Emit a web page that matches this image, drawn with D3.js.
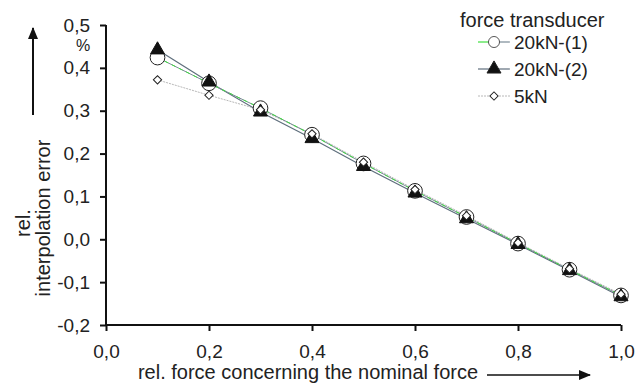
<!DOCTYPE html>
<html>
<head>
<meta charset="utf-8">
<title>interpolation error</title>
<style>
  html, body { margin: 0; padding: 0; background: #fff; }
  text { font-family: "Liberation Sans", Arial, sans-serif; fill: #222; }
</style>
</head>
<body>
<script src="https://d3js.org/d3.v7.min.js"></script>
<script>
var forces = [0.1, 0.2, 0.3, 0.4, 0.5, 0.6, 0.7, 0.8, 0.9, 1.0];
var err20kN1 = [0.424, 0.364, 0.306, 0.244, 0.177, 0.113, 0.052, -0.010, -0.071, -0.131];
var err20kN2 = [0.442, 0.367, 0.297, 0.235, 0.170, 0.108, 0.048, -0.012, -0.073, -0.134];
var err5kN = [0.372, 0.336, 0.302, 0.246, 0.180, 0.116, 0.055, -0.008, -0.069, -0.128];
var xTicks = [0, 0.2, 0.4, 0.6, 0.8, 1.0];
var yTicks = [-0.2, -0.1, 0, 0.1, 0.2, 0.3, 0.4, 0.5];
var seriesNames = ["20kN-(1)", "20kN-(2)", "5kN"];

var fmt = function(d) { return d3.format(".1f")(d).replace(".", ",").replace("−", "-"); };

var svg = d3.select("body").append("svg")
    .attr("width", 638)
    .attr("height", 383);

var x = d3.scaleLinear().domain([0, 1]).range([106, 621]);
var y = d3.scaleLinear().domain([-0.2, 0.5]).range([325, 25]);

// axes
var yAxis = svg.append("g")
    .attr("transform", "translate(106,0)")
    .call(d3.axisLeft(y).tickValues(yTicks).tickFormat(fmt).tickSize(6).tickPadding(10));
var xAxis = svg.append("g")
    .attr("transform", "translate(0,325)")
    .call(d3.axisBottom(x).tickValues(xTicks).tickFormat(fmt).tickSize(6).tickPadding(14));

[xAxis, yAxis].forEach(function(a) {
    a.select(".domain").attr("stroke", "#111").attr("stroke-width", 2);
    a.selectAll(".tick line").attr("stroke", "#111").attr("stroke-width", 2);
    a.selectAll(".tick text")
        .style("font-family", "'Liberation Sans', Arial, sans-serif")
        .style("font-size", "19px")
        .attr("fill", "#222");
});
yAxis.select(".domain").attr("d", "M0," + y(0.5) + "V" + y(-0.2));
xAxis.select(".domain").attr("d", "M" + x(0) + ",0H" + x(1));

svg.append("text")
    .attr("x", 83).attr("y", 51)
    .attr("text-anchor", "middle")
    .style("font-size", "16px")
    .text("%");

// arrows
var defs = svg.append("defs");
defs.append("marker")
    .attr("id", "arr")
    .attr("viewBox", "0 0 12 10")
    .attr("refX", 11).attr("refY", 5)
    .attr("markerWidth", 12).attr("markerHeight", 10)
    .attr("markerUnits", "userSpaceOnUse")
    .attr("orient", "auto")
    .append("path")
    .attr("d", "M0,0L12,5L0,10Z")
    .attr("fill", "#111");

svg.append("line")
    .attr("x1", 33).attr("y1", 115).attr("x2", 33).attr("y2", 28)
    .attr("stroke", "#111").attr("stroke-width", 2)
    .attr("marker-end", "url(#arr)");
svg.append("line")
    .attr("x1", 487).attr("y1", 375).attr("x2", 590).attr("y2", 375)
    .attr("stroke", "#111").attr("stroke-width", 1.5)
    .attr("marker-end", "url(#arr)");

// axis titles
svg.append("text")
    .attr("transform", "translate(30,223) rotate(-90)")
    .attr("text-anchor", "middle")
    .style("font-size", "20px")
    .text("rel.");
svg.append("text")
    .attr("transform", "translate(50,218) rotate(-90)")
    .attr("text-anchor", "middle")
    .style("font-size", "20px")
    .text("interpolation error");
svg.append("text")
    .attr("x", 308).attr("y", 379)
    .attr("text-anchor", "middle")
    .style("font-size", "20px")
    .text("rel. force concerning the nominal force");

// lines
var line = function(vals) {
    return d3.line()
        .x(function(d, i) { return x(forces[i]); })
        .y(function(d) { return y(d); })(vals);
};

var styles = [
    { stroke: "#7a8a96", width: 1, dash: null },
    { stroke: "#5e6e7c", width: 1.2, dash: null },
    { stroke: "#b8b8b8", width: 1, dash: "2,1" }
];

svg.append("path").attr("d", line(err5kN))
    .attr("fill", "none").attr("stroke", styles[2].stroke)
    .attr("stroke-width", 1).attr("stroke-dasharray", "2,1");
svg.append("path").attr("d", line(err20kN2))
    .attr("fill", "none").attr("stroke", styles[1].stroke)
    .attr("stroke-width", 1.2);
svg.append("path").attr("d", line(err20kN1))
    .attr("fill", "none").attr("stroke", styles[0].stroke)
    .attr("stroke-width", 1);
svg.append("path").attr("d", line(err20kN1))
    .attr("fill", "none").attr("stroke", "#3ee03e")
    .attr("stroke-width", 1).attr("stroke-dasharray", "4,4");

// markers
var circ = d3.symbol().type(d3.symbolCircle).size(170);
var tri = d3.symbol().type(d3.symbolTriangle).size(85);
var dia = d3.symbol().type(d3.symbolSquare).size(34);

function drawMarks(vals, sym, fill, stroke, rot) {
    svg.append("g").selectAll("path")
        .data(vals)
        .join("path")
        .attr("d", sym)
        .attr("transform", function(d, i) { return "translate(" + x(forces[i]) + "," + y(d) + ") rotate(" + rot + ")"; })
        .attr("fill", fill)
        .attr("stroke", stroke)
        .attr("stroke-width", 1);
}
drawMarks(err20kN1, circ, "#fff", "#222", 0);
drawMarks(err20kN2, tri, "#111", "#111", 0);
drawMarks(err5kN, dia, "#fff", "#222", 45);

// legend
var legend = svg.append("g");
legend.append("text")
    .attr("x", 460).attr("y", 27)
    .style("font-size", "20px")
    .text("force transducer");

var legY = [42, 69, 96];
var legSyms = [circ, tri, dia];
var legFill = ["#fff", "#111", "#fff"];
seriesNames.forEach(function(name, i) {
    var g = legend.append("g").attr("transform", "translate(0," + legY[i] + ")");
    if (i === 0) {
        g.append("line").attr("x1", 478).attr("x2", 494).attr("y1", 0).attr("y2", 0)
            .attr("stroke", "#3ee03e").attr("stroke-width", 1.2);
        g.append("line").attr("x1", 494).attr("x2", 510).attr("y1", 0).attr("y2", 0)
            .attr("stroke", "#7a8a96").attr("stroke-width", 1.2);
    } else {
        g.append("line").attr("x1", 478).attr("x2", 510).attr("y1", 0).attr("y2", 0)
            .attr("stroke", styles[i].stroke).attr("stroke-width", styles[i].width)
            .attr("stroke-dasharray", styles[i].dash);
    }
    g.append("path")
        .attr("d", legSyms[i])
        .attr("transform", "translate(494,0)" + (i === 0 ? " scale(0.75)" : "") + (i === 2 ? " rotate(45)" : ""))
        .attr("fill", legFill[i])
        .attr("stroke", "#222")
        .attr("stroke-width", 1);
    g.append("text")
        .attr("x", 514).attr("y", 7)
        .style("font-size", "19px")
        .text(name);
});
</script>
</body>
</html>
